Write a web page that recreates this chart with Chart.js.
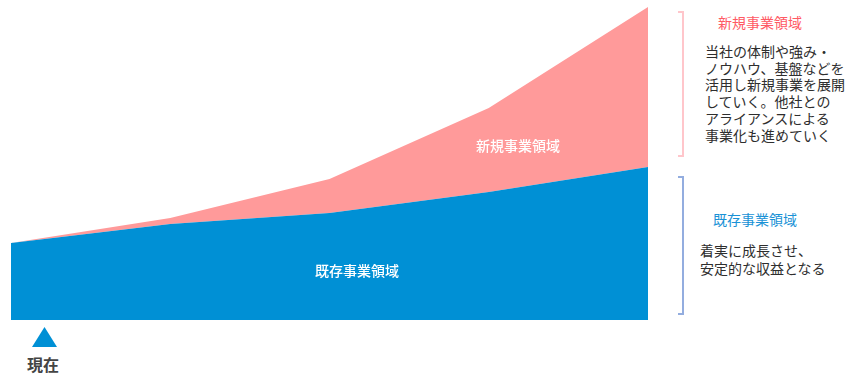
<!DOCTYPE html>
<html lang="ja">
<head>
<meta charset="utf-8">
<script src="https://cdn.jsdelivr.net/npm/chart.js@4"></script>
<style>
  html, body { margin: 0; padding: 0; background: #fff; }
  body { width: 851px; height: 376px; position: relative; overflow: hidden;
         font-family: "Noto Sans CJK JP", "Noto Sans", sans-serif; }
  #wrap { position: absolute; left: 11px; top: 0; width: 637px; height: 320px; }
  .abs { position: absolute; white-space: nowrap; }
  .inlabel { color: #fff; font-size: 14px; font-weight: 500; line-height: 16px; transform: translate(-50%, -50%); }
  .head { font-size: 14px; font-weight: 400; line-height: 17px; }
  .body { font-size: 14px; color: #2e2e2e; line-height: 16.7px; }
  .bracket { position: absolute; width: 6px; border: 2px solid; border-left: none; box-sizing: border-box; }
</style>
</head>
<body>
<div id="wrap"><canvas id="chart" width="637" height="320"></canvas></div>

<div class="abs inlabel" style="left:518px; top:145px;">新規事業領域</div>
<div class="abs inlabel" style="left:357px; top:270px;">既存事業領域</div>

<div class="bracket" style="left:678px; top:11px; height:146px; border-color:#ffc6cb;"></div>
<div class="bracket" style="left:678px; top:176px; height:139px; border-color:#93addf;"></div>

<div class="abs head" style="left:718px; top:14px; color:#ff5a64;">新規事業領域</div>
<div class="abs body" style="left:705px; top:43px;">当社の体制や強み・<br>ノウハウ、基盤などを<br>活用し新規事業を展開<br>していく。他社との<br>アライアンスによる<br>事業化も進めていく</div>

<div class="abs head" style="left:713px; top:211px; color:#1a92d6;">既存事業領域</div>
<div class="abs body" style="left:700px; top:241px; line-height:18.3px;">着実に成長させ、<br>安定的な収益となる</div>

<svg class="abs" style="left:32px; top:327px;" width="25" height="20"><polygon points="12.5,0 25,20 0,20" fill="#0090d5"/></svg>
<div class="abs" style="left:27px; top:355px; font-size:16px; font-weight:700; color:#444; line-height:18px;">現在</div>

<script>
// periods along the horizontal axis (not shown as ticks)
var periods = ['現在', 'P1', 'P2', 'P3', 'P4'];
// existing business (blue, bottom layer)
var existingBiz = [77, 96, 107, 128, 153];
// new business (pink, stacked on top)
var newBiz = [0, 6, 34, 84, 160];

var blue = '#0090d5';
var pink = '#ff9a9a';

new Chart(document.getElementById('chart').getContext('2d'), {
  type: 'line',
  data: {
    labels: periods,
    datasets: [
      {
        label: '既存事業領域',
        data: existingBiz,
        backgroundColor: blue,
        borderColor: blue,
        borderWidth: 0,
        pointRadius: 0,
        tension: 0,
        fill: 'origin'
      },
      {
        label: '新規事業領域',
        data: newBiz,
        backgroundColor: pink,
        borderColor: pink,
        borderWidth: 0,
        pointRadius: 0,
        tension: 0,
        fill: '-1'
      }
    ]
  },
  options: {
    responsive: false,
    animation: false,
    devicePixelRatio: 1,
    layout: { padding: 0 },
    plugins: { legend: { display: false }, tooltip: { enabled: false } },
    scales: {
      x: { display: false, offset: false },
      y: { display: false, stacked: true, min: 0, max: 320 }
    }
  }
});
</script>
</body>
</html>
